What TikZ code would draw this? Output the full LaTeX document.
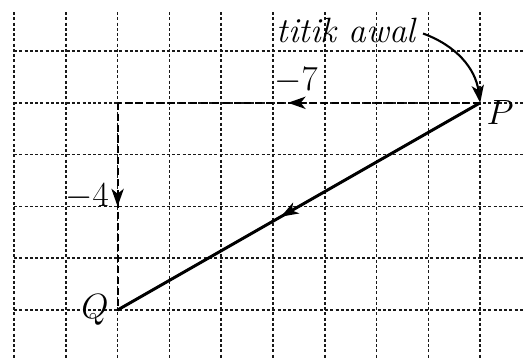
\documentclass[tikz,border=0pt]{standalone}
\usepackage{fix-cm}
\usetikzlibrary{arrows.meta,decorations.markings}
\begin{document}
\begin{tikzpicture}[x=0.02cm,y=-0.02cm,
  gridline/.style={line width=0.9pt, dash pattern=on 1.7pt off 1.3pt, black!90},
  guide/.style={line width=1.2pt, dash pattern=on 4pt off 2.2pt},
  vec/.style={line width=1.7pt},
  midarrow/.style={postaction={decorate},decoration={markings,
     mark=at position #1 with {\arrow{Stealth[length=10pt,width=7pt,inset=2.8pt]}}}},
  lbl/.style={inner sep=0pt, font=\fontsize{20}{24}\selectfont}]
\useasboundingbox (0,0) rectangle (525,359);
\fill[white] (0,0) rectangle (525,359);
% grid
\foreach \i in {0,...,9}
  \draw[gridline] ({14+51.8*\i},12) -- ({14+51.8*\i},359);
\foreach \j in {0,...,5}
  \draw[gridline] (14,{51+51.8*\j}) -- (525,{51+51.8*\j});
% points
\coordinate (P) at (480.2,102.8);
\coordinate (C) at (117.6,102.8);
\coordinate (Q) at (117.6,310);
% component arrows
\draw[guide,midarrow=0.53] (P) -- (C);
\draw[guide,midarrow=0.5] (C) -- (Q);
% vector
\draw[vec,midarrow=0.55] (P) -- (Q);
% labels
\node[lbl] (Plbl) at (500,112) {$P$};
\node[lbl] (Qlbl) at (95,310) {$Q$};
\node[lbl] (m7) at (296,81) {$-7$};
\node[lbl] (m4) at (87,197) {$-4$};
\node[lbl,anchor=east] (tt) at (416,30) {\itshape titik awal};
\draw[line width=1.2pt,-{Stealth[length=10pt,width=7pt,inset=2.8pt]}]
  ([xshift=4pt,yshift=-2pt]tt.east) to[out=-20,in=98] (P);
\end{tikzpicture}
\end{document}
